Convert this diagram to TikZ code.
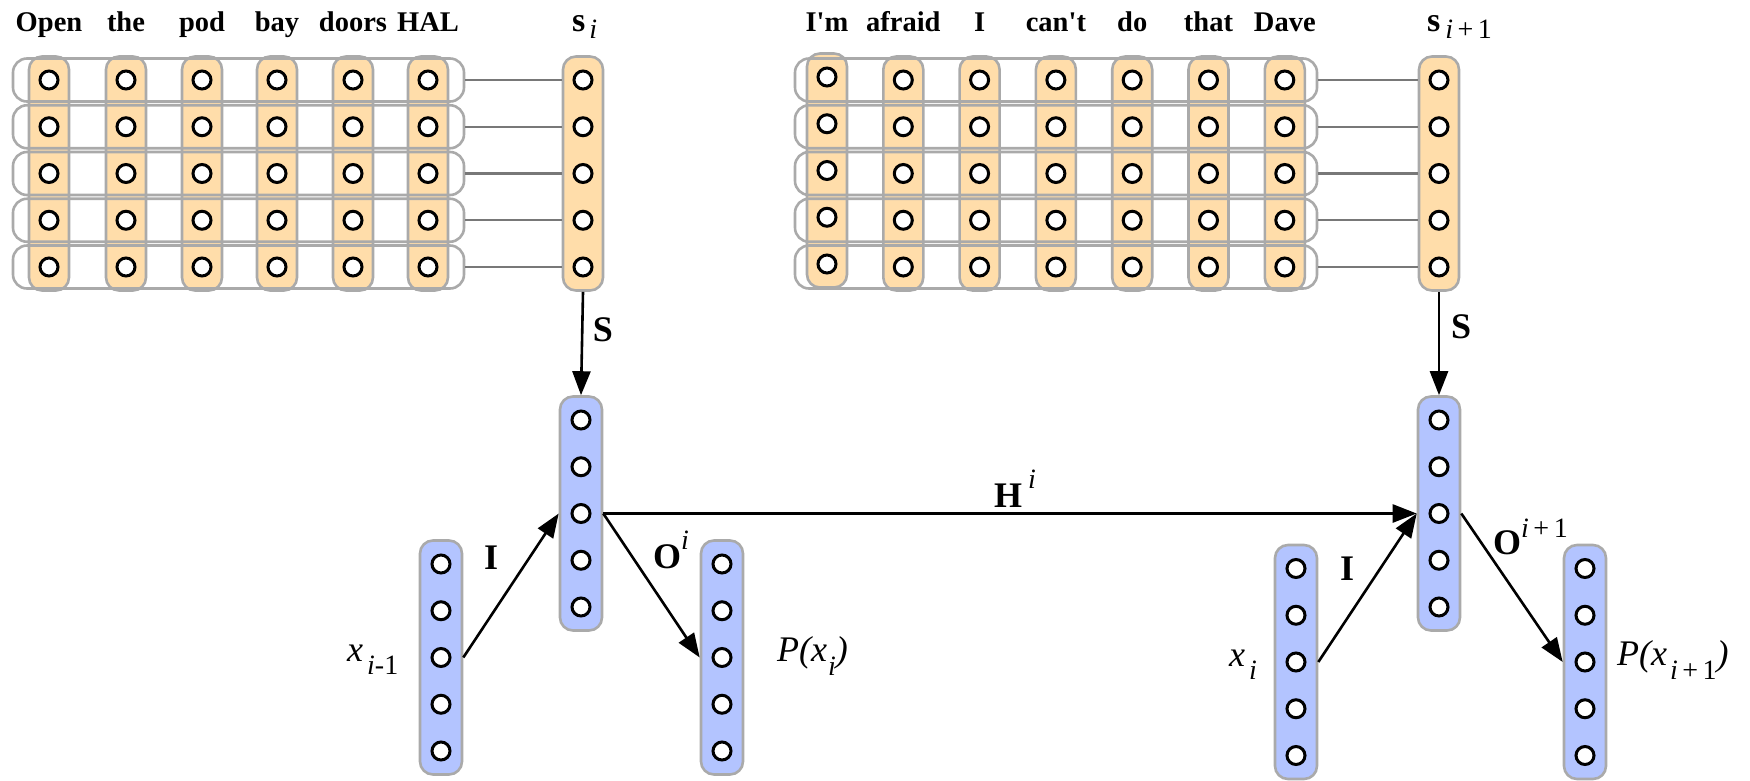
\documentclass[tikz,border=0pt]{standalone}
\usepackage{fontspec}
\setmainfont{Liberation Serif}[Ligatures=TeXOff]
\usetikzlibrary{arrows.meta,calc}
\definecolor{peach}{RGB}{255,221,170}
\definecolor{lblue}{RGB}{179,196,255}
\definecolor{bordergray}{RGB}{170,170,170}
\definecolor{linkgray}{RGB}{120,120,120}
\newcommand{\wordfont}{\fontsize{28.5}{30}\selectfont\bfseries}
\newcommand{\mathfnt}{\fontsize{36}{38}\selectfont}
\newcommand{\subfnt}{\fontsize{28}{30}\selectfont}
\newcommand{\iplus}{\itshape i\upshape\hspace{0.16em}+\hspace{0.16em}1}
% column: style, name, x, y of centre, spacing
\newcommand{\mkcolumn}[5]{%
  \node[#1] (#2) at (#3,#4) {};
  \foreach \r in {1,...,5} {\node[neuron] (#2-\r) at ({#3},{#4+(\r-3)*#5}) {};}
}
\begin{document}
\begin{tikzpicture}[x=1pt,y=-1pt,
  colbox/.style={draw=bordergray, line width=2.6pt, rounded corners=13pt, minimum width=40pt, minimum height=234pt, inner sep=0pt},
  encol/.style={colbox, fill=peach},
  hidcol/.style={colbox, fill=lblue, minimum width=42pt},
  neuron/.style={circle, draw=black, fill=white, line width=3pt, minimum size=18pt, inner sep=0pt},
  rowbox/.style={draw=bordergray, line width=2.6pt, rounded corners=14pt, minimum height=43pt, inner sep=0pt},
  link/.style={draw=linkgray, line width=2.4pt},
  arr/.style={draw=black, line width=2.6pt, -{Triangle[length=24pt,width=18pt]}},
  word/.style={font=\wordfont, anchor=base, inner sep=0pt},
  lab/.style={font=\mathfnt, inner sep=0pt},
]
\useasboundingbox (0,0) rectangle (1750,780);

% ---------- top-left encoder grid ----------
\foreach \nm/\xx in {a/49,b/126,c/202,d/277,e/353,f/428} {
  \mkcolumn{encol}{L\nm}{\xx}{173.5}{46.75}
}
\mkcolumn{encol}{si}{583}{173.5}{46.75}
\foreach \r in {1,...,5} {
  \node[rowbox, minimum width=451pt] (rowL\r) at (238.5,{80+(\r-1)*46.75}) {};
  \draw[link] (rowL\r.east) -- (si.west |- rowL\r.east);
}
\foreach \nm/\w in {a/Open,b/the,c/pod,d/bay,e/doors,f/HAL} {
  \node[word] (wL\nm) at (L\nm.center |- 0,31.5) {\w};
}
\node[word, anchor=base west, font=\fontsize{34}{36}\selectfont\bfseries] (lsi) at (572,31.5) {s\hspace{4pt}\raisebox{-7pt}{\subfnt\mdseries\itshape i}};

% ---------- top-right encoder grid ----------
\mkcolumn{encol}{Ra}{827}{170.5}{46.75}
\foreach \nm/\xx in {b/903.3,c/979.6,d/1055.9,e/1132.2,f/1208.5,g/1284.8} {
  \mkcolumn{encol}{R\nm}{\xx}{173.5}{46.75}
}
\mkcolumn{encol}{sj}{1439}{173.5}{46.75}
\foreach \r in {1,...,5} {
  \node[rowbox, minimum width=522pt] (rowR\r) at (1056,{80+(\r-1)*46.75}) {};
  \draw[link] (rowR\r.east) -- (sj.west |- rowR\r.east);
}
\foreach \nm/\w in {a/I'm,b/afraid,c/I,d/can't,e/do,f/that,g/Dave} {
  \node[word] (wR\nm) at (R\nm.center |- 0,31.5) {\w};
}
\node[word, anchor=base west, font=\fontsize{34}{36}\selectfont\bfseries] (lsj) at (1427,31.5) {s\hspace{5pt}\raisebox{-7pt}{\subfnt\mdseries\iplus}};

% ---------- bottom-left RNN step ----------
\mkcolumn{hidcol}{hL}{581}{513.5}{46.75}
\mkcolumn{hidcol}{xL}{441}{657.5}{46.75}
\mkcolumn{hidcol}{pL}{722}{657.5}{46.75}

% ---------- bottom-right RNN step ----------
\mkcolumn{hidcol}{hR}{1439}{513.5}{46.75}
\mkcolumn{hidcol}{xR}{1296}{662}{46.75}
\mkcolumn{hidcol}{pR}{1585}{662}{46.75}

% ---------- arrows ----------
\draw[arr] (si.south) -- (hL.north);
\draw[arr] (sj.south) -- (hR.north);
\draw[arr] (xL.east |- xL-3) -- (hL.west |- hL-3);
\draw[arr] (hL.east |- hL-3) -- (pL.west |- pL-3);
\draw[arr] (hL.east |- hL-3) -- (hR.west |- hR-3);
\draw[arr] (xR.east |- xR-3) -- (hR.west |- hR-3);
\draw[arr] (hR.east |- hR-3) -- (pR.west |- pR-3);

% ---------- labels ----------
\node[lab, font=\mathfnt\bfseries] (lS1) at (603,330) {S};
\node[lab, font=\mathfnt\bfseries] (lS2) at (1461,327) {S};
\node[lab, font=\mathfnt\bfseries] (lI1) at (491,558) {I};
\node[lab, font=\mathfnt\bfseries] (lI2) at (1347,569) {I};
\node[lab, anchor=base west] (lO1) at (653,568) {\textbf{O}\raisebox{19pt}{\subfnt\itshape i}};
\node[lab, anchor=base west] (lO2) at (1493,554) {\textbf{O}\raisebox{17pt}{\subfnt\iplus}};
\node[lab, anchor=base west] (lH) at (994,507) {\textbf{H}\hspace{6pt}\raisebox{19pt}{\subfnt\itshape i}};
\node[lab, anchor=base west] (lx1) at (347,661) {\itshape x\hspace{4pt}\raisebox{-13pt}{\subfnt\itshape i\upshape -1}};
\node[lab, anchor=base west] (lp1) at (777,661) {\itshape P(x\hspace{1pt}\raisebox{-14pt}{\subfnt i})};
\node[lab, anchor=base west] (lx2) at (1229,666) {\itshape x\hspace{4pt}\raisebox{-13pt}{\subfnt\itshape i}};
\node[lab, anchor=base west] (lp2) at (1617,665) {\itshape P(x\hspace{3pt}\raisebox{-14pt}{\subfnt\iplus})};
\end{tikzpicture}
\end{document}
